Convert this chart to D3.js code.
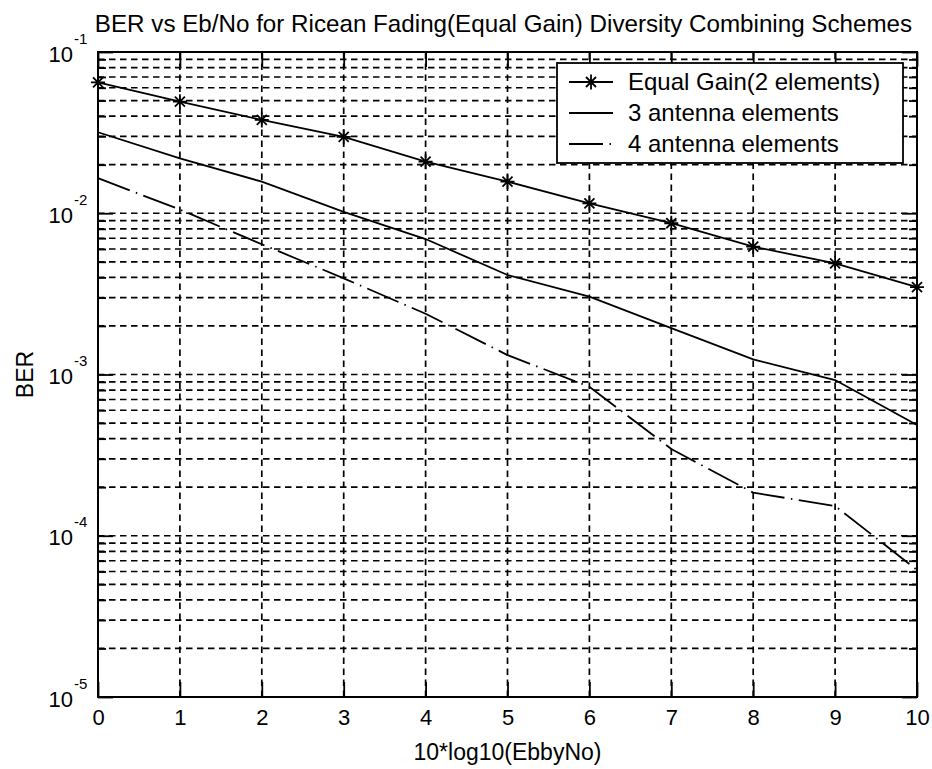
<!DOCTYPE html>
<html>
<head>
<meta charset="utf-8">
<script src="https://cdn.jsdelivr.net/npm/d3@7"></script>
<style>
  html, body { margin: 0; padding: 0; background: #fff; }
  svg { display: block; font-family: "Liberation Sans", Arial, sans-serif; }
</style>
</head>
<body>
<svg id="chart" width="932" height="769"></svg>
<script>
// ---- data ----
const ebno = [0, 1, 2, 3, 4, 5, 6, 7, 8, 9, 10];
const equalGain2 = [0.0649, 0.0492, 0.0379, 0.0298, 0.0209, 0.0157, 0.01153, 0.00867, 0.00621, 0.00489, 0.00348];
const antenna3 = [0.0318, 0.0219, 0.0157, 0.0102, 0.00692, 0.00414, 0.00304, 0.00194, 0.00124, 0.000924, 0.000486];
const antenna4 = [0.0165, 0.01054, 0.00642, 0.00395, 0.00238, 0.00132, 0.000839, 0.000345, 0.000185, 0.000153, 0.0000613];
const seriesNames = ["Equal Gain(2 elements)", "3 antenna elements", "4 antenna elements"];
const xTicks = [0, 1, 2, 3, 4, 5, 6, 7, 8, 9, 10];
const yMajorExponents = [-5, -4, -3, -2, -1];
const yMinorMultipliers = [2, 3, 4, 5, 6, 7, 8, 9];
const titleText = "BER vs Eb/No for Ricean Fading(Equal Gain) Diversity Combining Schemes";
const xLabel = "10*log10(EbbyNo)";
const yLabel = "BER";

// ---- layout ----
const pL = 98, pR = 917, pT = 52, pB = 697;
const W = pR - pL, H = pB - pT;
const svg = d3.select("#chart");
const FONT = "Liberation Sans, Arial, sans-serif";

const x = d3.scaleLinear().domain([0, 10]).range([pL, pR]);
const y = d3.scaleLog().domain([1e-5, 1e-1]).range([pB, pT]);

const majorVals = yMajorExponents.map(e => Math.pow(10, e));
const minorVals = [];
yMajorExponents.slice(0, -1).forEach(e => yMinorMultipliers.forEach(m => minorVals.push(m * Math.pow(10, e))));

const gridStyle = sel => sel.attr("stroke", "#000").attr("stroke-width", 1.7).attr("stroke-dasharray", "6.5,4.5");

// ---- grid ----
const gridG = svg.append("g");
gridG.selectAll("line.hg")
  .data(minorVals.concat(majorVals.slice(1, -1)))
  .join("line").attr("class", "hg")
  .attr("x1", pL).attr("x2", pR)
  .attr("y1", d => y(d)).attr("y2", d => y(d))
  .call(gridStyle);
gridG.selectAll("line.vg")
  .data(xTicks.slice(1, -1))
  .join("line").attr("class", "vg")
  .attr("y1", pB).attr("y2", pT)
  .attr("x1", d => x(d)).attr("x2", d => x(d))
  .call(gridStyle);

// ---- lines ----
const line = d3.line().x((d, i) => x(ebno[i])).y(d => y(d));
svg.append("path").datum(equalGain2).attr("d", line)
  .attr("fill", "none").attr("stroke", "#000").attr("stroke-width", 1.8);
svg.append("path").datum(antenna3).attr("d", line)
  .attr("fill", "none").attr("stroke", "#000").attr("stroke-width", 1.8);
svg.append("path").datum(antenna4).attr("d", line)
  .attr("fill", "none").attr("stroke", "#000").attr("stroke-width", 1.8)
  .attr("stroke-dasharray", "34,6.5,1.5,6.5");

const starPath = "M-7,0H7M0,-7.5V7.5M-5,-5L5,5M-5,5L5,-5";
svg.append("g").selectAll("path")
  .data(equalGain2)
  .join("path")
  .attr("transform", (d, i) => `translate(${x(ebno[i])},${y(d)})`)
  .attr("d", starPath)
  .attr("fill", "none").attr("stroke", "#000").attr("stroke-width", 1.8);

// ---- axes (ticks inside, on all four sides) ----
const tickFont = "22px";
const axB = svg.append("g").attr("transform", `translate(0,${pB})`)
  .call(d3.axisBottom(x).tickValues(xTicks).tickSizeInner(-15).tickSizeOuter(0).tickPadding(12).tickFormat(d3.format("d")));
const axT = svg.append("g").attr("transform", `translate(0,${pT})`)
  .call(d3.axisTop(x).tickValues(xTicks).tickSizeInner(-15).tickSizeOuter(0).tickFormat(() => ""));
const axL = svg.append("g").attr("transform", `translate(${pL},0)`)
  .call(d3.axisLeft(y).tickValues(majorVals).tickSizeInner(-15).tickSizeOuter(0).tickPadding(25).tickFormat(() => ""));
const axR = svg.append("g").attr("transform", `translate(${pR},0)`)
  .call(d3.axisRight(y).tickValues(majorVals).tickSizeInner(-15).tickSizeOuter(0).tickFormat(() => ""));
const axLm = svg.append("g").attr("transform", `translate(${pL},0)`)
  .call(d3.axisLeft(y).tickValues(minorVals).tickSizeInner(-8).tickSizeOuter(0).tickFormat(() => ""));
const axRm = svg.append("g").attr("transform", `translate(${pR},0)`)
  .call(d3.axisRight(y).tickValues(minorVals).tickSizeInner(-8).tickSizeOuter(0).tickFormat(() => ""));

[axB, axT, axL, axR, axLm, axRm].forEach(g => {
  g.select(".domain").remove();
  g.selectAll(".tick line").attr("stroke", "#000").attr("stroke-width", 1.8);
});
[axT, axR, axLm, axRm].forEach(g => g.selectAll(".tick text").remove());
axB.selectAll(".tick text").attr("font-size", tickFont).attr("fill", "#000")
  .attr("font-family", FONT).attr("dy", "0.71em");

// y tick labels: "10" with a superscript exponent
axL.selectAll(".tick text")
  .attr("font-family", FONT).attr("font-size", tickFont)
  .attr("fill", "#000").attr("text-anchor", "end")
  .attr("x", -25).attr("dy", null).attr("y", 9)
  .text("10");
axL.selectAll(".tick").append("text")
  .attr("x", -24).attr("y", -9)
  .attr("text-anchor", "start")
  .attr("font-size", "15px").attr("fill", "#000")
  .attr("font-family", FONT)
  .text(d => String(Math.round(Math.log10(d))));

// plot border
svg.append("rect").attr("x", pL).attr("y", pT).attr("width", W).attr("height", H)
  .attr("fill", "none").attr("stroke", "#000").attr("stroke-width", 2);

// ---- labels ----
svg.append("text").attr("x", (pL + pR) / 2 - 4).attr("y", 32)
  .attr("text-anchor", "middle").attr("font-size", "24.2px").attr("fill", "#000").text(titleText);
svg.append("text").attr("x", (pL + pR) / 2).attr("y", 760)
  .attr("text-anchor", "middle").attr("font-size", "23px").attr("fill", "#000").text(xLabel);
svg.append("text").attr("transform", `translate(33,${(pT + pB) / 2}) rotate(-90)`)
  .attr("text-anchor", "middle").attr("font-size", "23px").attr("fill", "#000").text(yLabel);

// ---- legend ----
const lg = svg.append("g");
lg.append("rect").attr("x", 557).attr("y", 63).attr("width", 346).attr("height", 100)
  .attr("fill", "#fff").attr("stroke", "#000").attr("stroke-width", 1.8);
const legendDash = [null, null, "34,6.5,1.5,6.5"];
const rows = lg.selectAll("g.row").data(seriesNames).join("g").attr("class", "row")
  .attr("transform", (d, i) => `translate(0,${82 + i * 31})`);
rows.append("line").attr("x1", 569).attr("x2", 613).attr("y1", 0).attr("y2", 0)
  .attr("stroke", "#000").attr("stroke-width", 1.8)
  .attr("stroke-dasharray", (d, i) => legendDash[i]);
rows.filter((d, i) => i === 0).append("path")
  .attr("transform", "translate(591,0)").attr("d", starPath)
  .attr("fill", "none").attr("stroke", "#000").attr("stroke-width", 1.8);
rows.append("text").attr("x", 628).attr("y", 7.5).attr("font-size", "24px").attr("fill", "#000").text(d => d);
</script>
</body>
</html>
